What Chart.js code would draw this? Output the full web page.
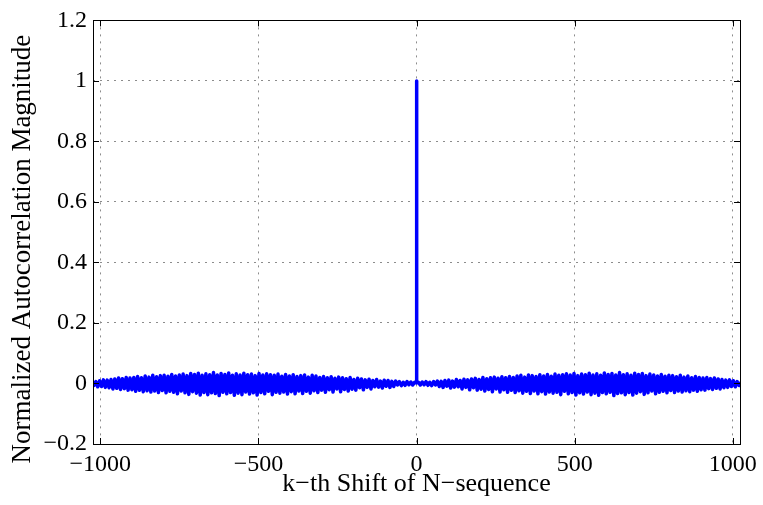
<!DOCTYPE html>
<html>
<head>
<meta charset="utf-8">
<script src="https://cdn.jsdelivr.net/npm/chart.js@4.4.1/dist/chart.umd.min.js"></script>
<style>
  html, body { margin: 0; padding: 0; background: #fff; }
  #wrap { width: 763px; height: 505px; }
</style>
</head>
<body>
<div id="wrap"><canvas id="acfChart" width="763" height="505"></canvas></div>
<script>
// sidelobe values for lags 6, 12, ..., 1020 (right half;
// the autocorrelation is symmetric so the left half is the same reversed)
const lagStep = 6;
const sideLobes = [
    0.004, -0.005, 0.005, -0.004, 0.006, -0.006, 0.004, -0.007, 0.006, -0.005,
    0.008, -0.010, 0.007, -0.013, 0.010, -0.009, 0.011, -0.015, 0.008, -0.012,
    0.013, -0.011, 0.010, -0.018, 0.014, -0.013, 0.012, -0.021, 0.015, -0.014,
    0.017, -0.022, 0.013, -0.019, 0.020, -0.025, 0.016, -0.020, 0.019, -0.027,
    0.021, -0.018, 0.017, -0.028, 0.022, -0.021, 0.019, -0.029, 0.023, -0.022,
    0.020, -0.030, 0.025, -0.024, 0.027, -0.032, 0.021, -0.026, 0.028, -0.033,
    0.026, -0.025, 0.023, -0.034, 0.029, -0.027, 0.025, -0.035, 0.030, -0.028,
    0.024, -0.032, 0.031, -0.029, 0.027, -0.037, 0.029, -0.026, 0.032, -0.034,
    0.028, -0.030, 0.033, -0.038, 0.026, -0.031, 0.031, -0.035, 0.029, -0.028,
    0.034, -0.037, 0.028, -0.032, 0.032, -0.039, 0.027, -0.030, 0.035, -0.034,
    0.030, -0.029, 0.033, -0.040, 0.028, -0.033, 0.036, -0.031, 0.029, -0.037,
    0.032, -0.030, 0.027, -0.038, 0.034, -0.032, 0.030, -0.027, 0.033, -0.036,
    0.026, -0.031, 0.031, -0.025, 0.028, -0.034, 0.025, -0.029, 0.030, -0.026,
    0.024, -0.031, 0.027, -0.023, 0.026, -0.030, 0.022, -0.025, 0.027, -0.028,
    0.021, -0.024, 0.025, -0.027, 0.019, -0.022, 0.023, -0.026, 0.020, -0.021,
    0.018, -0.022, 0.020, -0.017, 0.016, -0.020, 0.018, -0.016, 0.015, -0.018,
    0.013, -0.014, 0.011, -0.013, 0.012, -0.010, 0.009, -0.011, 0.006, -0.007
];
const peakValue = 1;
const nearLagValue = 0.002;   // lag +-1
const edgeLag = 1022;
const edgeValue = 0.001;

const xTicks = [-1000, -500, 0, 500, 1000];
const yTicks = [-0.2, 0, 0.2, 0.4, 0.6, 0.8, 1, 1.2];
const xLimits = [-1023, 1023];
const yLimits = [-0.2, 1.2];

const FONT = "'Liberation Serif', 'Times New Roman', serif";

function minusLabel(v) {
    const s = String(Number(Math.abs(v).toFixed(1)));
    return v < 0 ? '\u2212' + s : s;
}

// build the points list from the arrays above
const points = [{ x: -edgeLag, y: edgeValue }];
for (let i = sideLobes.length - 1; i >= 0; i--) {
    points.push({ x: -(i + 1) * lagStep, y: sideLobes[i] });
}
points.push({ x: -1, y: nearLagValue }, { x: 0, y: peakValue }, { x: 1, y: nearLagValue });
for (let i = 0; i < sideLobes.length; i++) {
    points.push({ x: (i + 1) * lagStep, y: sideLobes[i] });
}
points.push({ x: edgeLag, y: edgeValue });

// matlab style box with inward tick marks
const boxPlugin = {
    id: 'boxPlugin',
    afterDraw(chart) {
        const { ctx, chartArea: a, scales } = chart;
        const len = 6;
        ctx.save();
        ctx.strokeStyle = '#000';
        ctx.lineWidth = 1;
        ctx.beginPath();
        xTicks.forEach(v => {
            const px = Math.round(scales.x.getPixelForValue(v)) + 0.5;
            ctx.moveTo(px, a.bottom); ctx.lineTo(px, a.bottom - len);
            ctx.moveTo(px, a.top); ctx.lineTo(px, a.top + len);
        });
        yTicks.forEach(v => {
            const py = Math.round(scales.y.getPixelForValue(v)) + 0.5;
            ctx.moveTo(a.left, py); ctx.lineTo(a.left + len, py);
            ctx.moveTo(a.right, py); ctx.lineTo(a.right - len, py);
        });
        ctx.stroke();
        ctx.strokeRect(Math.round(a.left) + 0.5, Math.round(a.top) + 0.5,
            Math.round(a.right - a.left), Math.round(a.bottom - a.top));
        ctx.restore();
    }
};

const chart = new Chart(document.getElementById('acfChart').getContext('2d'), {
    type: 'line',
    data: {
        datasets: [{
            data: points,
            borderColor: '#0000ff',
            borderWidth: 3.5,
            borderJoinStyle: 'round',
            borderCapStyle: 'round',
            pointRadius: 0,
            tension: 0,
            fill: false
        }]
    },
    options: {
        responsive: false,
        animation: false,
        devicePixelRatio: 1,
        layout: { padding: { left: 0, right: 22, top: 19, bottom: 0 } },
        plugins: { legend: { display: false }, tooltip: { enabled: false } },
        scales: {
            x: {
                type: 'linear',
                min: xLimits[0],
                max: xLimits[1],
                afterBuildTicks: s => { s.ticks = xTicks.map(v => ({ value: v })); },
                afterFit: s => { s.height = 61; },
                ticks: {
                    color: '#000',
                    font: { family: FONT, size: 24 },
                    padding: 6,
                    maxRotation: 0,
                    autoSkip: false,
                    callback: v => minusLabel(v)
                },
                grid: { color: '#8c8c8c', lineWidth: 1, drawTicks: false },
                border: { display: false, dash: [2, 5] },
                title: {
                    display: true,
                    text: 'k\u2212th Shift of N\u2212sequence',
                    color: '#000',
                    font: { family: FONT, size: 26 },
                    padding: { top: 0, bottom: 5 }
                }
            },
            y: {
                min: yLimits[0],
                max: yLimits[1],
                afterBuildTicks: s => { s.ticks = yTicks.map(v => ({ value: v })); },
                afterFit: s => { s.width = 93; },
                ticks: {
                    color: '#000',
                    font: { family: FONT, size: 24 },
                    padding: 6,
                    autoSkip: false,
                    callback: v => minusLabel(v)
                },
                grid: { color: '#8c8c8c', lineWidth: 1, drawTicks: false },
                border: { display: false, dash: [2, 5] },
                title: {
                    display: true,
                    // trailing spaces push the label a little down, as in the original
                    text: 'Normalized Autocorrelation Magnitude\u00a0\u00a0\u00a0\u00a0\u00a0',
                    color: '#000',
                    font: { family: FONT, size: 27 },
                    padding: { top: 7, bottom: 0 }
                }
            }
        }
    },
    plugins: [boxPlugin]
});
</script>
</body>
</html>
